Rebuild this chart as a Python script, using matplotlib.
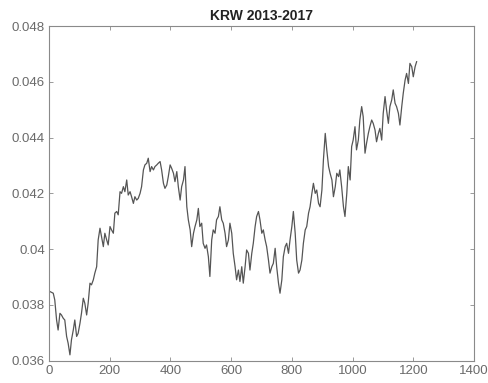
import numpy as np
import matplotlib
matplotlib.use('Agg')
import matplotlib.pyplot as plt

# KRW series (day index, rate)
days = [3, 14, 19, 25, 30, 36, 41, 47, 52, 58, 63, 69, 74, 80, 85, 91, 96, 102, 107, 113,
        118, 124, 129, 135, 140, 146, 151, 157, 162, 168, 173, 179, 184, 190, 195, 201, 206, 212, 217, 223,
        228, 234, 239, 245, 250, 256, 261, 267, 272, 278, 283, 289, 294, 300, 305, 311, 316, 322, 327, 333,
        338, 344, 349, 355, 360, 366, 371, 377, 382, 388, 393, 399, 404, 410, 415, 421, 426, 432, 437, 443,
        448, 454, 459, 465, 470, 476, 481, 487, 492, 497, 503, 508, 514, 519, 525, 530, 536, 541, 547, 552,
        558, 563, 569, 574, 580, 585, 591, 596, 602, 607, 613, 618, 624, 629, 635, 640, 646, 651, 657, 662,
        668, 673, 679, 684, 690, 695, 701, 706, 712, 717, 723, 728, 734, 739, 745, 750, 756, 761, 767, 772,
        778, 783, 789, 794, 800, 805, 811, 816, 822, 827, 833, 838, 844, 849, 855, 860, 866, 871, 877, 882,
        888, 893, 899, 904, 910, 915, 921, 926, 932, 937, 943, 948, 954, 958, 964, 970, 975, 981, 986, 992,
        997, 1002, 1008, 1013, 1019, 1024, 1030, 1035, 1041, 1046, 1052, 1057, 1063, 1068, 1074, 1079, 1085, 1090, 1096, 1101,
        1107, 1112, 1118, 1123, 1129, 1134, 1140, 1145, 1151, 1156, 1162, 1167, 1173, 1178, 1184, 1189, 1195, 1200, 1206, 1211]
rate = [0.03848, 0.03842, 0.03818, 0.03746, 0.03710, 0.03770, 0.03764, 0.03752, 0.03746, 0.03687,
        0.03663, 0.03621, 0.03675, 0.03710, 0.03746, 0.03687, 0.03698, 0.03734, 0.03770, 0.03824,
        0.03806, 0.03764, 0.03806, 0.03878, 0.03872, 0.03890, 0.03914, 0.03937, 0.04033, 0.04075,
        0.04045, 0.04009, 0.04057, 0.04033, 0.04015, 0.04081, 0.04069, 0.04057, 0.04129, 0.04135,
        0.04123, 0.04206, 0.04200, 0.04224, 0.04206, 0.04248, 0.04194, 0.04206, 0.04188, 0.04164,
        0.04188, 0.04176, 0.04182, 0.04200, 0.04224, 0.04284, 0.04302, 0.04308, 0.04326, 0.04278,
        0.04296, 0.04284, 0.04296, 0.04302, 0.04308, 0.04314, 0.04284, 0.04236, 0.04218, 0.04230,
        0.04260, 0.04302, 0.04290, 0.04272, 0.04242, 0.04278, 0.04224, 0.04176, 0.04224, 0.04248,
        0.04296, 0.04152, 0.04105, 0.04069, 0.04009, 0.04057, 0.04081, 0.04105, 0.04146, 0.04081,
        0.04093, 0.04021, 0.04003, 0.04015, 0.03973, 0.03902, 0.04033, 0.04069, 0.04057, 0.04105,
        0.04117, 0.04152, 0.04105, 0.04093, 0.04057, 0.04009, 0.04033, 0.04093, 0.04057, 0.03985,
        0.03937, 0.03890, 0.03925, 0.03884, 0.03937, 0.03878, 0.03937, 0.03997, 0.03985, 0.03925,
        0.03985, 0.04021, 0.04081, 0.04117, 0.04135, 0.04105, 0.04057, 0.04069, 0.04033, 0.04009,
        0.03961, 0.03914, 0.03937, 0.03949, 0.04003, 0.03937, 0.03878, 0.03842, 0.03890, 0.03973,
        0.04009, 0.04021, 0.03985, 0.04033, 0.04081, 0.04135, 0.04057, 0.03961, 0.03914, 0.03925,
        0.03961, 0.04021, 0.04069, 0.04081, 0.04129, 0.04152, 0.04200, 0.04236, 0.04200, 0.04212,
        0.04164, 0.04152, 0.04212, 0.04320, 0.04415, 0.04356, 0.04296, 0.04272, 0.04248, 0.04188,
        0.04224, 0.04272, 0.04260, 0.04284, 0.04224, 0.04152, 0.04117, 0.04200, 0.04296, 0.04248,
        0.04368, 0.04391, 0.04439, 0.04356, 0.04391, 0.04463, 0.04511, 0.04475, 0.04344, 0.04379,
        0.04415, 0.04439, 0.04463, 0.04451, 0.04427, 0.04385, 0.04415, 0.04433, 0.04391, 0.04487,
        0.04547, 0.04499, 0.04451, 0.04511, 0.04535, 0.04571, 0.04523, 0.04511, 0.04487, 0.04445,
        0.04511, 0.04559, 0.04606, 0.04630, 0.04594, 0.04666, 0.04654, 0.04618, 0.04654, 0.04672]

xticks = [0, 200, 400, 600, 800, 1000, 1200, 1400]
yticks = [0.036, 0.038, 0.040, 0.042, 0.044, 0.046, 0.048]
ytick_labels = ['0.036', '0.038', '0.04', '0.042', '0.044', '0.046', '0.048']

plt.rcParams['font.family'] = ['Liberation Sans', 'DejaVu Sans']

fig = plt.figure(figsize=(4.89, 3.83), dpi=100)
ax = fig.add_axes([0.1002, 0.0582, 0.8691, 0.8739])

ax.plot(days, rate, color='#555555', linewidth=0.9)

ax.set_xlim(0, 1400)
ax.set_ylim(0.036, 0.048)
ax.set_xticks(xticks)
ax.set_xticklabels([str(t) for t in xticks])
ax.set_yticks(yticks)
ax.set_yticklabels(ytick_labels)

for s in ax.spines.values():
    s.set_color('#8a8a8a')
    s.set_linewidth(0.8)
ax.tick_params(direction='in', top=True, right=True, length=3, width=0.6,
               color='#8a8a8a', labelcolor='#6a6a6a', labelsize=9.5, pad=3)

ax.set_title('KRW 2013-2017', fontsize=10, fontweight='bold', color='#222222', pad=4)

fig.savefig('out.png', dpi=100)
